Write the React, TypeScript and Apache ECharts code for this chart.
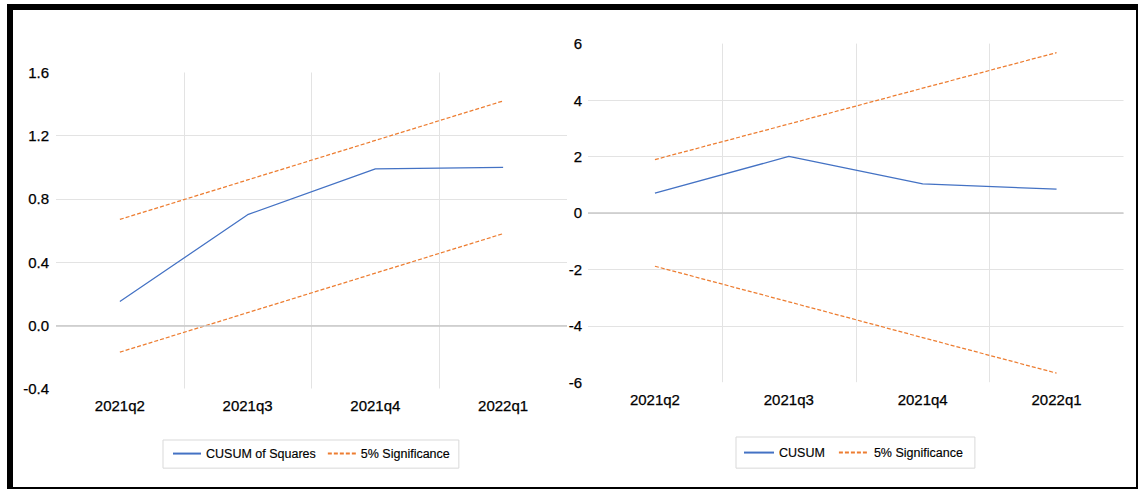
import React, { useEffect, useRef } from 'react';
import * as echarts from 'echarts';

const categories = ['2021q2', '2021q3', '2021q4', '2022q1'];

// Left panel: CUSUM of Squares
const cusumSq = [0.15, 0.70, 0.99, 1.0];
const cusumSqUpper = [0.67, 0.92, 1.17, 1.42];
const cusumSqLower = [-0.17, 0.08, 0.33, 0.58];
const leftYTicks = [-0.4, 0.0, 0.4, 0.8, 1.2, 1.6];

// Right panel: CUSUM
const cusum = [0.70, 2.00, 1.03, 0.84];
const cusumUpper = [1.89, 3.15, 4.42, 5.68];
const cusumLower = [-1.89, -3.15, -4.42, -5.68];
const rightYTicks = [-6, -4, -2, 0, 2, 4, 6];

const BLUE = '#4472C4';
const ORANGE = '#ED7D31';
const GRID = '#e3e3e3';
const ZERO = '#c8c8c8';
const TICK_FONT = '"Liberation Sans", Arial, sans-serif';
const LEGEND_FONT = '"Liberation Sans", Arial, sans-serif';

export default function App() {
  const ref = useRef<HTMLDivElement>(null);

  useEffect(() => {
    if (!ref.current) return;
    const chart = echarts.init(ref.current, undefined, { renderer: 'svg' });

    const xAxisBase = (gridIndex: number, margin: number) => ({
      type: 'category' as const,
      gridIndex,
      data: categories,
      boundaryGap: true,
      axisLine: { show: false },
      axisTick: { show: false },
      axisLabel: {
        color: '#000',
        fontSize: 15,
        fontFamily: TICK_FONT,
        margin,
        textBorderColor: '#000',
        textBorderWidth: 0.25,
      },
      splitLine: {
        show: true,
        showMinLine: false,
        showMaxLine: false,
        lineStyle: { color: GRID, width: 1 },
      },
    });

    const yAxisBase = (gridIndex: number, ticks: number[], digits: number, margin: number) => ({
      type: 'value' as const,
      gridIndex,
      min: ticks[0],
      max: ticks[ticks.length - 1],
      interval: ticks[1] - ticks[0],
      axisLine: { show: false },
      axisTick: { show: false },
      axisLabel: {
        color: '#000',
        fontSize: 15,
        fontFamily: TICK_FONT,
        margin,
        textBorderColor: '#000',
        textBorderWidth: 0.25,
        formatter: (v: number) => v.toFixed(digits),
      },
      splitLine: {
        show: true,
        showMinLine: false,
        showMaxLine: false,
        lineStyle: { color: GRID, width: 1 },
      },
    });

    const zeroLine = {
      silent: true,
      symbol: ['none', 'none'],
      label: { show: false },
      lineStyle: { color: ZERO, width: 1.5, type: 'solid' },
      data: [{ yAxis: 0 }],
    };

    const lineSeries = (name: string, data: number[], idx: number, color: string, dashed: boolean) => ({
      type: 'line' as const,
      name,
      data,
      xAxisIndex: idx,
      yAxisIndex: idx,
      symbol: 'none',
      showSymbol: false,
      lineStyle: { color, width: 1.25, type: dashed ? [4, 2] : 'solid' },
      itemStyle: { color },
    });

    const legendBase = {
      orient: 'horizontal' as const,
      itemHeight: 14,
      borderColor: '#d9d9d9',
      borderWidth: 1,
      itemStyle: { opacity: 0, borderWidth: 0 },
      textStyle: {
        color: '#000',
        fontSize: 12.5,
        fontFamily: LEGEND_FONT,
        textBorderColor: '#000',
        textBorderWidth: 0.15,
      },
    };

    chart.setOption({
      animation: false,
      backgroundColor: '#fff',
      grid: [
        { left: 56, top: 72.5, width: 511, height: 316, containLabel: false },
        { left: 588, top: 43.6, width: 535.5, height: 338.6, containLabel: false },
      ],
      xAxis: [xAxisBase(0, 9), xAxisBase(1, 10)],
      yAxis: [yAxisBase(0, leftYTicks, 1, 7), yAxisBase(1, rightYTicks, 0, 6)],
      legend: [
        {
          ...legendBase,
          left: 163,
          top: 440,
          padding: [7, 9, 8, 9],
          itemWidth: 28,
          itemGap: 11,
          data: ['CUSUM of Squares', '5% Significance'],
        },
        {
          ...legendBase,
          left: 736,
          top: 437,
          padding: [9, 12, 9, 7],
          itemWidth: 30,
          itemGap: 13,
          data: ['CUSUM', '5% Significance'],
        },
      ],
      series: [
        { ...lineSeries('CUSUM of Squares', cusumSq, 0, BLUE, false), markLine: zeroLine },
        lineSeries('5% Significance', cusumSqUpper, 0, ORANGE, true),
        lineSeries('5% Significance', cusumSqLower, 0, ORANGE, true),
        { ...lineSeries('CUSUM', cusum, 1, BLUE, false), markLine: zeroLine },
        lineSeries('5% Significance', cusumUpper, 1, ORANGE, true),
        lineSeries('5% Significance', cusumLower, 1, ORANGE, true),
      ],
      graphic: [
        { type: 'rect', left: 7, top: 4, shape: { width: 1131, height: 6 }, style: { fill: '#000' }, silent: true },
        { type: 'rect', left: 7, top: 4, shape: { width: 6, height: 485 }, style: { fill: '#000' }, silent: true },
        { type: 'rect', left: 1136, top: 4, shape: { width: 2, height: 485 }, style: { fill: '#000' }, silent: true },
        { type: 'rect', left: 7, top: 487, shape: { width: 1131, height: 2 }, style: { fill: '#000' }, silent: true },
      ],
    });

    return () => chart.dispose();
  }, []);

  return (
    <div
      ref={ref}
      style={{ position: 'absolute', left: 0, top: 0, width: 1138, height: 489 }}
    />
  );
}
